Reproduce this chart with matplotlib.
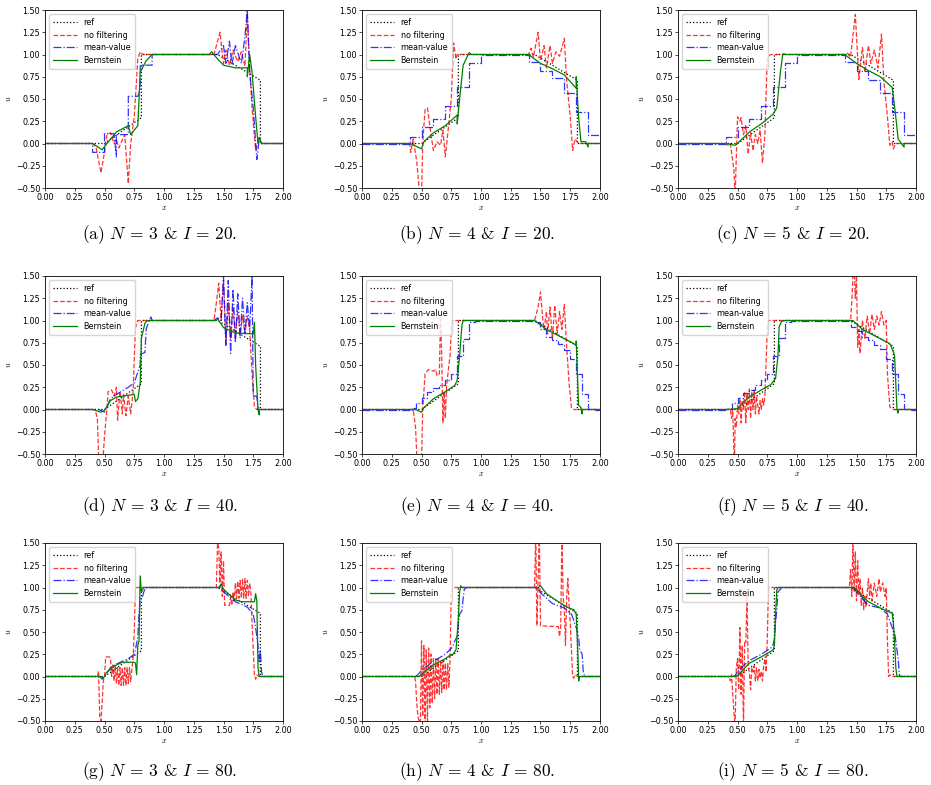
import numpy as np
import matplotlib.pyplot as plt

plt.rcParams['mathtext.fontset'] = 'cm'

# reference solution (same in every panel)
ref = [(0, 0), (0.5, 0), (0.81, 0.29), (0.81, 1.0), (1.45, 1.0), (1.81, 0.71), (1.81, 0), (2.0, 0)]

# (a) N=3, I=20
nf_a = [(0, 0), (0.4, 0), (0.43, -0.05), (0.47, -0.33), (0.5, -0.1), (0.52, 0.1), (0.55, 0.12), (0.58, 0.0),
        (0.6, 0.05), (0.62, -0.05), (0.67, 0.1), (0.7, -0.45), (0.72, 0.0), (0.75, 0.3), (0.78, 0.95), (0.8, 1.03),
        (0.82, 1.0), (1.4, 1.0), (1.42, 1.0), (1.47, 1.25), (1.5, 0.9), (1.52, 1.05), (1.55, 0.88), (1.58, 1.05),
        (1.62, 0.92), (1.65, 1.03), (1.68, 0.87), (1.7, 1.45), (1.72, 0.85), (1.74, 0.4), (1.77, -0.07), (1.8, 0.05),
        (1.82, 0), (2.0, 0)]
mv_a = [(0, 0), (0.4, 0), (0.4, -0.1), (0.5, -0.1), (0.5, 0.11), (0.58, 0.11), (0.6, -0.15), (0.6, 0.1), (0.7, 0.1),
        (0.7, 0.53), (0.78, 0.53), (0.8, 0.6), (0.8, 0.88), (0.9, 0.88), (0.9, 1.0), (1.45, 1.0), (1.5, 1.1),
        (1.52, 0.9), (1.55, 1.15), (1.57, 0.88), (1.6, 1.1), (1.65, 0.9), (1.68, 1.2), (1.7, 1.5), (1.72, 0.8),
        (1.75, 0.4), (1.78, -0.18), (1.8, 0.05), (1.82, 0), (2.0, 0)]
bern_a = [(0, 0), (0.4, 0), (0.48, -0.07), (0.52, 0.0), (0.6, 0.13), (0.7, 0.2), (0.72, 0.1), (0.78, 0.2),
          (0.8, 0.8), (0.85, 0.93), (0.9, 1.0), (1.38, 1.0), (1.4, 1.03), (1.45, 0.95), (1.5, 0.88), (1.6, 0.85),
          (1.7, 0.85), (1.7, 0.75), (1.72, 1.0), (1.74, 0.8), (1.77, 0.3), (1.79, 0.0), (1.8, 0.07), (1.82, 0), (2.0, 0)]

# (b) N=4, I=20
nf_b = [(0, 0), (0.4, 0), (0.41, -0.1), (0.43, 0.05), (0.46, -0.2), (0.48, -0.5), (0.5, -0.6), (0.51, 0.0),
        (0.53, 0.38), (0.55, 0.4), (0.58, 0.1), (0.6, -0.08), (0.63, 0.02), (0.66, -0.02), (0.68, 0.15), (0.7, -0.15),
        (0.72, 0.1), (0.75, 0.5), (0.77, 1.13), (0.79, 0.95), (0.8, 1.0), (1.4, 1.0), (1.42, 1.07), (1.44, 0.97),
        (1.48, 1.25), (1.5, 0.93), (1.53, 1.1), (1.55, 0.85), (1.58, 1.1), (1.6, 0.9), (1.63, 1.03), (1.66, 0.98),
        (1.7, 1.18), (1.72, 0.7), (1.75, 0.3), (1.77, -0.08), (1.79, 0.05), (1.82, 0), (2.0, 0)]
mv_b = [(0, 0), (0.4, 0), (0.4, 0.07), (0.5, 0.07), (0.5, 0.18), (0.6, 0.18), (0.6, 0.28), (0.7, 0.28), (0.7, 0.42),
        (0.8, 0.42), (0.8, 0.64), (0.9, 0.64), (0.9, 0.9), (1.0, 0.9), (1.0, 1.0), (1.4, 1.0), (1.4, 0.92), (1.5, 0.92),
        (1.5, 0.81), (1.6, 0.81), (1.6, 0.74), (1.7, 0.74), (1.7, 0.57), (1.8, 0.57), (1.8, 0.35), (1.9, 0.35),
        (1.9, 0.09), (2.0, 0.09)]
bern_b = [(0, 0), (0.4, 0), (0.42, -0.01), (0.5, -0.06), (0.52, 0.02), (0.6, 0.12), (0.7, 0.2), (0.8, 0.32),
          (0.8, 0.22), (0.82, 0.5), (0.85, 0.88), (0.9, 1.02), (0.92, 1.0), (1.4, 1.0), (1.5, 0.9), (1.6, 0.84),
          (1.7, 0.77), (1.8, 0.62), (1.8, 0.75), (1.82, 0.3), (1.84, 0.02), (1.88, 0.02), (1.9, -0.04), (1.9, 0), (2.0, 0)]

# (c) N=5, I=20
nf_c = [(0, 0), (0.4, 0), (0.42, -0.02), (0.44, 0.0), (0.47, -0.3), (0.48, -0.6), (0.5, 0.3), (0.52, 0.25),
        (0.53, 0.29), (0.55, 0.1), (0.57, 0.2), (0.59, -0.12), (0.61, 0.12), (0.63, -0.08), (0.65, 0.1), (0.67, 0.0),
        (0.69, 0.15), (0.71, -0.22), (0.73, 0.1), (0.75, 0.97), (0.78, 1.0), (1.4, 1.0), (1.42, 1.02), (1.45, 0.97),
        (1.49, 1.45), (1.52, 0.72), (1.55, 1.08), (1.57, 0.8), (1.6, 1.1), (1.62, 0.9), (1.65, 1.05), (1.68, 0.85),
        (1.71, 1.23), (1.73, 0.7), (1.76, 0.3), (1.78, -0.02), (1.8, 0.02), (1.81, -0.06), (1.83, 0), (2.0, 0)]
mv_c = [(0, 0), (0.4, 0), (0.4, 0.07), (0.5, 0.07), (0.5, 0.18), (0.6, 0.18), (0.6, 0.28), (0.7, 0.28), (0.7, 0.42),
        (0.8, 0.42), (0.8, 0.64), (0.9, 0.64), (0.9, 0.9), (1.0, 0.9), (1.0, 1.0), (1.4, 1.0), (1.4, 0.92), (1.5, 0.92),
        (1.5, 0.81), (1.6, 0.81), (1.6, 0.71), (1.7, 0.71), (1.7, 0.57), (1.8, 0.57), (1.8, 0.35), (1.9, 0.35),
        (1.9, 0.09), (2.0, 0.09)]
bern_c = [(0, 0), (0.4, 0), (0.48, -0.02), (0.5, 0.0), (0.6, 0.13), (0.7, 0.22), (0.8, 0.33), (0.83, 0.4),
          (0.86, 0.8), (0.88, 1.0), (0.89, 1.01), (0.9, 1.0), (1.4, 1.0), (1.5, 0.9), (1.6, 0.82), (1.7, 0.75),
          (1.8, 0.63), (1.83, 0.3), (1.85, 0.05), (1.9, -0.04), (1.9, 0), (2.0, 0)]

# (d) N=3, I=40
nf_d = [(0, 0), (0.42, 0), (0.44, -0.1), (0.45, -0.5), (0.47, -0.6), (0.49, -0.5), (0.5, -0.3), (0.52, 0.0),
        (0.53, 0.2), (0.56, 0.22), (0.58, 0.15), (0.6, 0.25), (0.61, -0.12), (0.63, 0.2), (0.65, -0.05), (0.66, 0.17),
        (0.68, -0.07), (0.7, 0.15), (0.72, -0.05), (0.74, 0.2), (0.76, 0.92), (0.78, 1.0), (1.42, 1.0), (1.44, 1.2),
        (1.46, 1.42), (1.48, 1.0), (1.5, 1.45), (1.52, 0.75), (1.54, 1.2), (1.56, 0.8), (1.58, 1.15), (1.6, 0.8),
        (1.62, 1.1), (1.64, 0.85), (1.66, 1.05), (1.68, 0.85), (1.7, 1.05), (1.72, 0.9), (1.74, 0.4), (1.76, 0.03),
        (1.78, 0), (2.0, 0)]
mv_d = [(0, 0), (0.45, 0), (0.47, -0.01), (0.5, -0.03), (0.55, 0.12), (0.6, 0.17), (0.7, 0.25), (0.75, 0.3),
        (0.8, 0.5), (0.8, 0.62), (0.84, 0.64), (0.85, 0.9), (0.87, 0.98), (0.89, 1.04), (0.9, 1.0), (1.42, 1.0),
        (1.45, 1.03), (1.48, 1.0), (1.5, 1.5), (1.52, 0.72), (1.54, 1.45), (1.56, 0.63), (1.58, 1.35), (1.6, 0.75),
        (1.62, 1.3), (1.64, 0.8), (1.66, 1.25), (1.68, 0.85), (1.7, 1.2), (1.72, 0.9), (1.74, 1.5), (1.75, 0.15),
        (1.78, 0.15), (1.79, 0), (2.0, 0)]
bern_d = [(0, 0), (0.4, 0), (0.47, -0.03), (0.5, -0.01), (0.55, 0.1), (0.6, 0.14), (0.7, 0.16), (0.75, 0.17),
          (0.76, 0.09), (0.78, 0.12), (0.8, 0.3), (0.81, 0.8), (0.84, 0.97), (0.86, 1.0), (1.44, 1.0), (1.45, 1.02),
          (1.5, 0.92), (1.6, 0.86), (1.75, 0.85), (1.76, 0.98), (1.77, 0.5), (1.79, 0.0), (1.8, -0.06), (1.8, 0), (2.0, 0)]

# (e) N=4, I=40
nf_e = [(0, 0), (0.43, 0), (0.45, -0.2), (0.46, -0.5), (0.48, -0.6), (0.5, -0.6), (0.51, 0.0), (0.53, 0.4),
        (0.56, 0.45), (0.6, 0.43), (0.62, 0.45), (0.63, 0.38), (0.65, 0.4), (0.66, 1.05), (0.67, 0.6), (0.68, -0.15),
        (0.69, 0.2), (0.7, -0.1), (0.71, 0.25), (0.73, 0.5), (0.74, 0.6), (0.75, 0.9), (0.76, 1.0), (1.45, 1.0),
        (1.48, 1.15), (1.5, 1.32), (1.52, 1.0), (1.53, 0.9), (1.55, 1.1), (1.56, 0.85), (1.58, 1.15), (1.6, 0.8),
        (1.62, 1.17), (1.64, 0.85), (1.66, 1.1), (1.68, 0.9), (1.7, 1.18), (1.72, 0.7), (1.74, 0.3), (1.76, 0.02),
        (1.78, 0), (2.0, 0)]
mv_e = [(0, 0), (0.43, 0), (0.43, 0.02), (0.45, 0.02), (0.45, 0.07), (0.5, 0.07), (0.5, 0.13), (0.55, 0.13),
        (0.55, 0.2), (0.6, 0.2), (0.6, 0.24), (0.65, 0.24), (0.65, 0.28), (0.7, 0.28), (0.7, 0.33), (0.75, 0.33),
        (0.75, 0.4), (0.8, 0.4), (0.8, 0.6), (0.85, 0.6), (0.85, 0.79), (0.9, 0.79), (0.9, 0.98), (0.95, 0.98),
        (0.95, 1.0), (1.45, 1.0), (1.45, 0.98), (1.5, 0.98), (1.5, 0.9), (1.55, 0.9), (1.55, 0.82), (1.6, 0.82),
        (1.6, 0.78), (1.65, 0.78), (1.65, 0.74), (1.7, 0.74), (1.7, 0.67), (1.75, 0.67), (1.75, 0.57), (1.8, 0.57),
        (1.8, 0.4), (1.85, 0.4), (1.85, 0.17), (1.9, 0.17), (1.9, 0.01), (1.95, 0.01), (1.95, 0), (2.0, 0)]
bern_e = [(0, 0), (0.45, 0), (0.5, -0.03), (0.52, 0.02), (0.6, 0.12), (0.7, 0.2), (0.78, 0.27), (0.8, 0.33),
          (0.82, 0.6), (0.84, 0.95), (0.85, 1.0), (1.45, 1.0), (1.55, 0.9), (1.65, 0.83), (1.78, 0.74), (1.8, 0.72),
          (1.8, 0.77), (1.81, 0.4), (1.82, 0.05), (1.84, 0.02), (1.85, -0.05), (1.85, 0), (2.0, 0)]

# (f) N=5, I=40
nf_f = [(0, 0), (0.44, 0), (0.45, -0.1), (0.46, 0.0), (0.47, -0.5), (0.475, -0.6), (0.48, -0.1), (0.49, -0.2),
        (0.5, 0.05), (0.51, -0.05), (0.52, 0.12), (0.53, -0.15), (0.54, 0.1), (0.55, 0.0), (0.56, 0.2), (0.57, -0.15),
        (0.58, 0.18), (0.59, 0.0), (0.6, 0.23), (0.61, -0.1), (0.62, 0.2), (0.63, 0.0), (0.64, 0.22), (0.65, -0.05),
        (0.66, 0.15), (0.67, 0.05), (0.68, -0.05), (0.69, 0.1), (0.7, 0.0), (0.71, 0.12), (0.72, 0.05), (0.73, 0.15),
        (0.75, 0.9), (0.76, 1.0), (1.45, 1.0), (1.46, 1.2), (1.47, 1.5), (1.48, 1.6), (1.49, 1.25), (1.5, 1.5),
        (1.51, 0.7), (1.52, 0.9), (1.53, 0.63), (1.55, 1.0), (1.57, 0.8), (1.59, 1.05), (1.61, 0.85), (1.63, 1.07),
        (1.65, 0.9), (1.67, 1.05), (1.69, 0.95), (1.71, 1.1), (1.73, 0.95), (1.75, 1.0), (1.76, 0.4), (1.78, 0.03),
        (1.8, 0), (2.0, 0)]
mv_f = [(0, 0), (0.4, 0), (0.4, 0.01), (0.45, 0.01), (0.45, 0.07), (0.5, 0.07), (0.5, 0.13), (0.55, 0.13),
        (0.55, 0.18), (0.6, 0.18), (0.6, 0.22), (0.65, 0.22), (0.65, 0.27), (0.7, 0.27), (0.7, 0.33), (0.75, 0.33),
        (0.75, 0.4), (0.8, 0.4), (0.8, 0.6), (0.85, 0.6), (0.85, 0.8), (0.9, 0.8), (0.9, 0.98), (0.95, 0.98),
        (0.95, 1.0), (1.45, 1.0), (1.45, 0.93), (1.5, 0.93), (1.5, 0.88), (1.55, 0.88), (1.55, 0.82), (1.6, 0.82),
        (1.6, 0.78), (1.65, 0.78), (1.65, 0.73), (1.7, 0.73), (1.7, 0.68), (1.75, 0.68), (1.75, 0.57), (1.8, 0.57),
        (1.8, 0.4), (1.85, 0.4), (1.85, 0.17), (1.9, 0.17), (1.9, 0.01), (1.95, 0.01), (1.95, 0), (2.0, 0)]
bern_f = [(0, 0), (0.4, 0), (0.5, 0.01), (0.55, 0.08), (0.6, 0.14), (0.7, 0.22), (0.78, 0.28), (0.82, 0.35),
          (0.84, 0.6), (0.85, 0.93), (0.87, 0.99), (0.9, 1.0), (1.47, 1.0), (1.55, 0.9), (1.65, 0.83), (1.78, 0.74),
          (1.81, 0.65), (1.82, 0.6), (1.83, 0.3), (1.84, 0.0), (1.85, -0.04), (1.85, 0), (2.0, 0)]

# (g) N=3, I=80
nf_g = [(0, 0), (0.44, 0), (0.45, 0.06), (0.46, -0.45), (0.47, -0.5), (0.48, -0.3), (0.49, -0.05), (0.5, 0.0),
        (0.51, 0.22), (0.54, 0.22), (0.55, 0.2), (0.56, 0.0), (0.57, 0.13), (0.58, -0.05), (0.59, 0.12), (0.6, -0.08),
        (0.61, 0.1), (0.62, -0.1), (0.63, 0.1), (0.64, -0.1), (0.65, 0.1), (0.66, -0.1), (0.67, 0.1), (0.68, -0.1),
        (0.69, 0.1), (0.7, -0.08), (0.71, 0.1), (0.72, -0.06), (0.73, 0.08), (0.74, 0.2), (0.75, 0.5), (0.76, 1.0),
        (1.44, 1.0), (1.45, 1.5), (1.46, 1.45), (1.47, 1.05), (1.48, 1.4), (1.49, 0.9), (1.5, 1.3), (1.51, 0.8),
        (1.55, 0.8), (1.56, 0.9), (1.57, 0.8), (1.58, 0.95), (1.59, 0.85), (1.6, 1.05), (1.61, 0.88), (1.62, 1.07),
        (1.63, 0.88), (1.64, 1.08), (1.65, 0.88), (1.66, 1.1), (1.67, 0.88), (1.68, 1.1), (1.69, 0.88), (1.7, 1.08),
        (1.71, 0.9), (1.72, 1.05), (1.73, 0.95), (1.74, 0.6), (1.75, 0.3), (1.76, 0.02), (1.77, -0.03), (1.78, 0.02),
        (1.8, 0), (2.0, 0)]
mv_g = [(0, 0), (0.46, 0), (0.48, -0.03), (0.5, 0.0), (0.55, 0.1), (0.6, 0.14), (0.7, 0.2), (0.75, 0.25),
        (0.76, 0.3), (0.78, 0.45), (0.79, 0.7), (0.8, 0.88), (0.82, 0.9), (0.83, 0.95), (0.84, 0.98), (0.86, 1.0),
        (1.47, 1.0), (1.48, 1.03), (1.5, 0.95), (1.6, 0.84), (1.7, 0.78), (1.75, 0.7), (1.77, 0.55), (1.79, 0.35),
        (1.8, 0.15), (1.81, 0.3), (1.82, 0.05), (1.83, 0), (2.0, 0)]
bern_g = [(0, 0), (0.47, 0), (0.49, -0.02), (0.52, 0.05), (0.6, 0.13), (0.65, 0.16), (0.75, 0.16), (0.76, 0.15),
          (0.77, 0.02), (0.78, 0.35), (0.79, 0.4), (0.8, 1.13), (0.81, 0.95), (0.83, 1.0), (1.46, 1.0), (1.48, 1.04),
          (1.5, 0.98), (1.6, 0.86), (1.65, 0.84), (1.76, 0.84), (1.77, 0.93), (1.78, 0.85), (1.79, 0.1), (1.8, 0),
          (2.0, 0)]

# (h) N=4, I=80
nf_h = [(0, 0), (0.44, 0), (0.45, -0.05), (0.46, -0.3), (0.47, -0.45), (0.48, -0.5), (0.49, -0.6), (0.5, 0.4),
        (0.51, -0.45), (0.52, 0.35), (0.53, -0.6), (0.54, 0.3), (0.55, -0.5), (0.56, 0.32), (0.57, -0.35),
        (0.58, 0.25), (0.59, -0.3), (0.6, 0.2), (0.61, -0.25), (0.62, 0.2), (0.63, -0.2), (0.64, 0.2), (0.65, -0.2),
        (0.66, 0.18), (0.67, -0.18), (0.68, 0.18), (0.69, -0.15), (0.7, 0.15), (0.71, -0.15), (0.72, 0.15),
        (0.73, -0.12), (0.74, 0.2), (0.75, 0.95), (0.76, 1.0), (1.45, 1.0), (1.46, 1.6), (1.47, 0.57), (1.49, 1.6),
        (1.5, 0.57), (1.65, 0.56), (1.66, 0.45), (1.67, 0.57), (1.68, 1.6), (1.69, 0.9), (1.7, 0.75), (1.71, 0.35),
        (1.72, 0.9), (1.73, 1.1), (1.74, 0.8), (1.75, 0.6), (1.76, 0.3), (1.77, 0.0), (1.78, -0.02), (1.79, 0.02),
        (1.81, 0), (2.0, 0)]
mv_h = [(0, 0), (0.45, 0), (0.47, 0.02), (0.5, 0.07), (0.55, 0.12), (0.6, 0.17), (0.7, 0.25), (0.76, 0.33),
        (0.78, 0.4), (0.8, 0.45), (0.81, 0.6), (0.82, 0.7), (0.84, 0.74), (0.85, 0.88), (0.86, 0.98), (0.88, 1.0),
        (1.48, 1.0), (1.5, 0.94), (1.6, 0.82), (1.7, 0.77), (1.76, 0.7), (1.78, 0.63), (1.8, 0.55), (1.82, 0.45),
        (1.83, 0.3), (1.85, 0.25), (1.86, 0.04), (1.87, 0.01), (1.88, 0), (2.0, 0)]
bern_h = [(0, 0), (0.48, 0), (0.5, 0.02), (0.55, 0.08), (0.6, 0.13), (0.7, 0.2), (0.75, 0.25), (0.76, 0.24),
          (0.79, 0.3), (0.81, 0.65), (0.82, 0.95), (0.83, 1.02), (0.84, 1.0), (1.48, 1.0), (1.5, 1.02), (1.55, 0.93),
          (1.65, 0.84), (1.72, 0.78), (1.78, 0.75), (1.8, 0.7), (1.81, 0.4), (1.82, 0.02), (1.82, -0.05), (1.83, 0),
          (2.0, 0)]

# (i) N=5, I=80
nf_i = [(0, 0), (0.43, 0), (0.44, -0.05), (0.45, 0.02), (0.46, -0.2), (0.47, -0.4), (0.48, -0.55), (0.49, 0.1),
        (0.5, 0.2), (0.51, -0.15), (0.52, 0.55), (0.53, -0.2), (0.54, 0.35), (0.55, -0.6), (0.56, 0.4), (0.57, 0.38),
        (0.58, 0.9), (0.59, 0.1), (0.6, 0.05), (0.61, -0.15), (0.62, 0.1), (0.63, 0.05), (0.64, 0.12), (0.65, -0.05),
        (0.66, 0.1), (0.67, -0.05), (0.68, 0.08), (0.69, -0.02), (0.7, 0.06), (0.71, -0.05), (0.72, 0.12),
        (0.73, 0.2), (0.74, 0.05), (0.75, 0.4), (0.76, 1.0), (1.44, 1.0), (1.45, 1.2), (1.46, 0.9), (1.47, 1.5),
        (1.48, 0.95), (1.49, 1.4), (1.5, 0.85), (1.51, 1.3), (1.52, 0.92), (1.53, 1.1), (1.54, 0.8), (1.55, 1.0),
        (1.56, 0.75), (1.57, 0.9), (1.58, 0.78), (1.6, 1.1), (1.61, 0.9), (1.62, 1.05), (1.63, 0.85), (1.65, 1.05),
        (1.67, 0.9), (1.69, 1.1), (1.7, 0.95), (1.72, 1.05), (1.74, 0.9), (1.75, 1.0), (1.76, 0.4), (1.77, 0.0),
        (1.78, 0.02), (1.8, 0), (2.0, 0)]
mv_i = [(0, 0), (0.46, 0), (0.48, 0.01), (0.5, 0.06), (0.55, 0.12), (0.6, 0.18), (0.7, 0.25), (0.78, 0.32),
        (0.8, 0.36), (0.81, 0.42), (0.82, 0.6), (0.83, 0.75), (0.84, 0.95), (0.86, 0.98), (0.87, 1.0), (1.48, 1.0),
        (1.5, 0.95), (1.6, 0.8), (1.7, 0.77), (1.76, 0.7), (1.78, 0.62), (1.8, 0.55), (1.82, 0.5), (1.84, 0.3),
        (1.85, 0.2), (1.86, 0.02), (1.87, 0), (2.0, 0)]
bern_i = [(0, 0), (0.48, 0), (0.5, 0.01), (0.55, 0.08), (0.6, 0.15), (0.7, 0.22), (0.8, 0.3), (0.81, 0.35),
          (0.82, 0.7), (0.83, 0.97), (0.84, 1.0), (1.48, 1.0), (1.52, 0.95), (1.55, 0.9), (1.6, 0.84), (1.7, 0.77),
          (1.8, 0.71), (1.81, 0.6), (1.82, 0.4), (1.83, 0.1), (1.84, 0), (2.0, 0)]

labels = ['a', 'b', 'c', 'd', 'e', 'f', 'g', 'h', 'i']
Ns = [3, 4, 5] * 3
Is = [20] * 3 + [40] * 3 + [80] * 3
panels = [(nf_a, mv_a, bern_a), (nf_b, mv_b, bern_b), (nf_c, mv_c, bern_c),
          (nf_d, mv_d, bern_d), (nf_e, mv_e, bern_e), (nf_f, mv_f, bern_f),
          (nf_g, mv_g, bern_g), (nf_h, mv_h, bern_h), (nf_i, mv_i, bern_i)]

W, H = 931, 785
fig = plt.figure(figsize=(W / 100, H / 100), dpi=100)

col_left = [45, 362, 678]
row_top = [10, 276, 543]
cap_y = [235, 507, 772]
aw, ah = 238, 178
fs = 5.8

for k, (nf, mv, bern) in enumerate(panels):
    r, c = divmod(k, 3)
    ax = fig.add_axes([col_left[c] / W, 1 - (row_top[r] + ah) / H, aw / W, ah / H])
    for pts, sty, col, lab, al in [(ref, ':', 'k', 'ref', 1.0), (nf, '--', 'r', 'no filtering', 0.8),
                                   (mv, '-.', 'b', 'mean-value', 0.8), (bern, '-', 'g', 'Bernstein', 1.0)]:
        xs, ys = zip(*pts)
        ax.plot(xs, ys, sty, color=col, lw=0.9, alpha=al, label=lab)
    ax.set_xlim(0, 2)
    ax.set_ylim(-0.5, 1.5)
    ax.set_xticks(np.arange(0, 2.01, 0.25))
    ax.set_yticks(np.arange(-0.5, 1.51, 0.25))
    ax.xaxis.set_major_formatter('{x:.2f}')
    ax.yaxis.set_major_formatter('{x:.2f}')
    ax.tick_params(labelsize=fs, length=2, width=0.5, pad=1.5)
    for s in ax.spines.values():
        s.set_linewidth(0.6)
    ax.set_xlabel('$x$', fontsize=fs, labelpad=1)
    ax.set_ylabel('$u$', fontsize=fs, labelpad=2)
    ax.legend(loc='upper left', fontsize=fs, handlelength=3, borderpad=0.5, labelspacing=0.45)
    fig.text((col_left[c] + aw / 2 - 4) / W, 1 - cap_y[r] / H,
             r'(%s) $N\,=\,%d$ & $I\,=\,%d$.' % (labels[k], Ns[k], Is[k]),
             ha='center', va='center', fontsize=12.5, family='cmr10')

fig.savefig('out.png', dpi=100)
